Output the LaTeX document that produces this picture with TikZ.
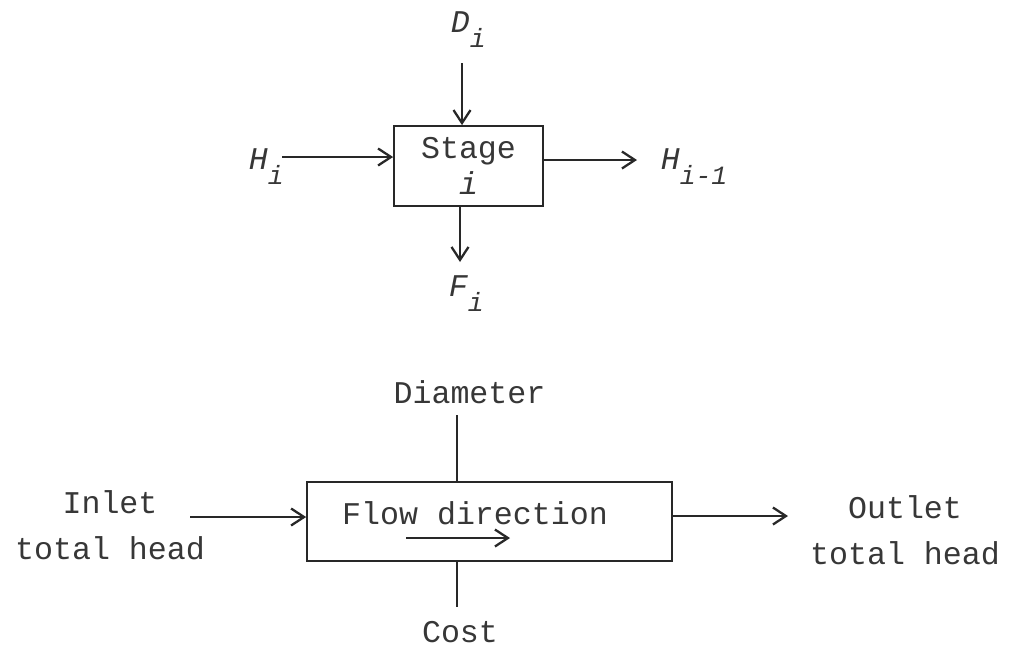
\documentclass[tikz,border=0pt]{standalone}
\usepackage{fontspec}
\setmonofont{Liberation Mono}
\usepackage{xcolor}
\usepackage{tikz}
\usetikzlibrary{
  arrows.meta,
  positioning,
  calc
}
\definecolor{inkgray}{RGB}{40,40,40}
\definecolor{txtgray}{RGB}{55,55,55}
\newcommand{\lblfont}{\fontsize{18}{20.5}\selectfont\ttfamily}
\newcommand{\sbs}[1]{\raisebox{-0.5em}{\fontsize{15}{15}\selectfont #1}}

\begin{document}
\begin{tikzpicture}[
  x=0.02cm, y=-0.02cm,
  txt/.style={font=\lblfont, text=txtgray, inner sep=0pt},
  var/.style={txt, font=\lblfont\itshape, anchor=base west},
  endlbl/.style={txt, align=center, font=\fontsize{18}{26}\selectfont\ttfamily},
  blk/.style={draw=inkgray, line width=1pt, font=\lblfont, text=txtgray, align=center},
  flow/.style={-{Straight Barb[length=2.6mm,width=3.4mm,line width=1.3pt]}, line width=1pt, inkgray},
  tie/.style={line width=1pt, inkgray}
]
  \useasboundingbox (0,0) rectangle (1017,647);

  % stage block
  \node[blk, minimum width=2.98cm, minimum height=1.6cm] (stage) at (468.5,166) {Stage\\\textit{i}};

  % stage variables
  \node[var] (dlab) at (450.5,32)  {D\sbs{i}};
  \node[var] (hin)  at (248.5,169) {H\sbs{i}};
  \node[var] (hout) at (660.5,169) {H\sbs{i-1}};
  \node[var] (flab) at (448.5,296) {F\sbs{i}};

  % stage arrows
  \coordinate (dA) at (462,63);
  \coordinate (hA) at (282,157);
  \coordinate (oA) at (637,160);
  \coordinate (fA) at (460,262);
  \draw[flow] (dA) -- (dA |- stage.north);
  \draw[flow] (hA) -- (hA -| stage.west);
  \draw[flow] (oA -| stage.east) -- (oA);
  \draw[flow] (fA |- stage.south) -- (fA);

  % pipe block
  \node[blk, minimum width=7.3cm, minimum height=1.58cm] (pipe) at (489.5,521.5) {};
  \node[txt] (flowtxt) at (475,513) {Flow direction};
  \coordinate (fs) at (406,538);
  \coordinate (fe) at (510,538);
  \draw[flow] (fs) -- (fe);

  % pipe labels
  \node[txt] (dia)  at (469.5,392) {Diameter};
  \node[txt] (cost) at (460,632)   {Cost};
  \node[endlbl] (inlet)  at (110,525) {Inlet\\total head};
  \node[endlbl] (outlet) at (905,530) {Outlet\\total head};

  % pipe connectors
  \coordinate (dT) at (457,415);
  \coordinate (cB) at (457,607);
  \coordinate (iA) at (190,517);
  \coordinate (oB) at (788,516);
  \draw[tie] (dT) -- (dT |- pipe.north);
  \draw[tie] (cB |- pipe.south) -- (cB);
  \draw[flow] (iA) -- (iA -| pipe.west);
  \draw[flow] (oB -| pipe.east) -- (oB);
\end{tikzpicture}
\end{document}
